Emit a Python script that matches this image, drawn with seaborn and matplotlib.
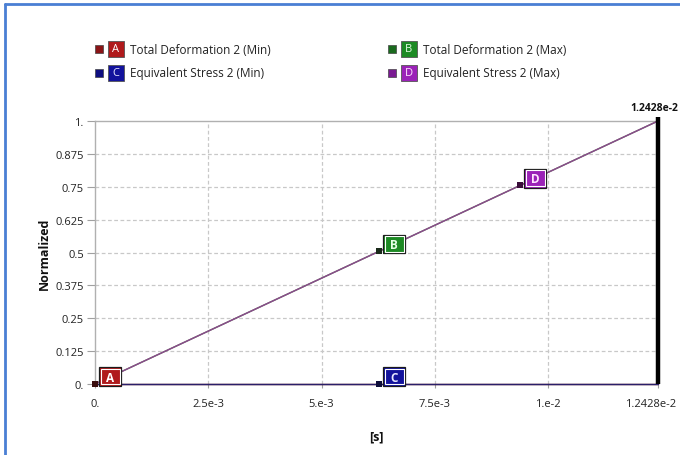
import matplotlib
matplotlib.use("Agg")
import matplotlib.pyplot as plt
import seaborn as sns
import pandas as pd
from matplotlib.patches import Rectangle
from matplotlib.lines import Line2D
from matplotlib.text import Text
from matplotlib.transforms import ScaledTranslation
from matplotlib.offsetbox import DrawingArea, AnnotationBbox

# ---- data -------------------------------------------------------------
time_s = [0.0, 0.012428]
total_def_min = [0.0, 0.0]
total_def_max = [0.0, 1.0]
eqv_stress_min = [0.0, 0.0]
eqv_stress_max = [0.0, 1.0]

series_names = ["Total Deformation 2 (Min)", "Total Deformation 2 (Max)",
                "Equivalent Stress 2 (Min)", "Equivalent Stress 2 (Max)"]
series_letters = ["A", "B", "C", "D"]
series_values = [total_def_min, total_def_max, eqv_stress_min, eqv_stress_max]

# probe markers (time, normalized value)
probe_times = [0.0, 6.27e-3, 6.27e-3, 9.38e-3]
probe_values = [0.0, 0.505, 0.0, 0.755]

x_ticks = [0.0, 2.5e-3, 5e-3, 7.5e-3, 1e-2, 1.2428e-2]
x_tick_labels = ["0.", "2.5e-3", "5.e-3", "7.5e-3", "1.e-2", "1.2428e-2"]
y_ticks = [0.0, 0.125, 0.25, 0.375, 0.5, 0.625, 0.75, 0.875, 1.0]
y_tick_labels = ["0.", "0.125", "0.25", "0.375", "0.5", "0.625", "0.75", "0.875", "1."]
end_time = 0.012428
end_time_label = "1.2428e-2"

# ---- styling ----------------------------------------------------------
box_colors = ["#b01a1c", "#1d8a24", "#12129c", "#9b22b8"]
legend_dot_colors = ["#8a1416", "#1a6a1e", "#0e0e80", "#7a1a92"]
line_colors = ["#6a1f1f", "#5a7a4a", "#2a1f6a", "#8a4a8e"]
dot_colors = ["#3a0d0d", "#1a2a1a", "#0d0d3a", "#3a0d3a"]
letter_colors = ["#ffffff", "#e6ffe6", "#e6e6ff", "#ffe6ff"]

sns.set_theme(style="white")
plt.rcParams["font.family"] = ["Open Sans", "DejaVu Sans"]

W, H = 680, 456
fig = plt.figure(figsize=(W / 100, H / 100), dpi=100)
fig.patch.set_facecolor("white")

ax_left, ax_right, ax_top, ax_bottom = 95, 658, 122, 385
ax = fig.add_axes([ax_left / W, 1 - ax_bottom / H,
                   (ax_right - ax_left) / W, (ax_bottom - ax_top) / H])

rows = []
for name, vals in zip(series_names, series_values):
    for t, v in zip(time_s, vals):
        rows.append({"time": t, "value": v, "series": name})
df = pd.DataFrame(rows)

sns.lineplot(data=df, x="time", y="value", hue="series",
             hue_order=series_names, palette=dict(zip(series_names, line_colors)),
             linewidth=1.0, legend=False, ax=ax, clip_on=False, zorder=3)

ax.set_xlim(0, end_time)
ax.set_ylim(0, 1)

# grid
for xt in x_ticks[1:-1]:
    ax.axvline(xt, color="#c8c8c8", lw=0.9, ls=(0, (3, 2)), zorder=1)
for yt in y_ticks[1:-1]:
    ax.axhline(yt, color="#c8c8c8", lw=0.9, ls=(0, (3, 2)), zorder=1)

for s in ["right", "bottom"]:
    ax.spines[s].set_visible(False)
for s in ["left", "top"]:
    ax.spines[s].set_color("#b0b0b0")
    ax.spines[s].set_linewidth(1.0)

# current-time marker
ax.plot([end_time, end_time], [0, 1.015], color="black", lw=3.2,
        clip_on=False, zorder=5, solid_capstyle="butt")
ax.annotate(end_time_label, (end_time, 1.0), xytext=(-3, 6),
            textcoords="offset points", ha="center", va="bottom",
            fontsize=7.5, fontweight="bold", color="#111111",
            annotation_clip=False)

ax.set_xticks(x_ticks)
ax.set_xticklabels(x_tick_labels)
ax.set_yticks(y_ticks)
ax.set_yticklabels(y_tick_labels)
ax.tick_params(axis="x", length=3, width=0.8, color="#a0a0a0",
               labelsize=8, labelcolor="#222222", pad=7, bottom=True)
ax.tick_params(axis="y", length=6, width=0.8, color="#a0a0a0",
               labelsize=8, labelcolor="#222222", pad=2, left=True)
ax.set_xlabel("[s]", fontsize=9, fontweight="bold", labelpad=15, color="#111111")
ax.set_ylabel("Normalized", fontsize=9, fontweight="bold", labelpad=3, color="#111111")

# nudge the end-time tick label so it stays inside the window
fig.canvas.draw()
last = ax.get_xticklabels()[-1]
last.set_transform(last.get_transform() +
                   ScaledTranslation(-5 / 72, 0, fig.dpi_scale_trans))


def tag(letter, fc, tc, w=16, h=13.5):
    da = DrawingArea(w, h, 0, 0)
    da.add_artist(Rectangle((0, 0), w, h, fc=fc, ec="#1a1a1a", lw=0.9))
    da.add_artist(Rectangle((1.2, 1.2), w - 2.4, h - 2.4, fc=fc, ec="white", lw=0.8))
    da.add_artist(Text(w / 2, h / 2 - 0.3, letter, ha="center", va="center",
                       fontsize=8.5, fontweight="bold", color=tc,
                       fontfamily=["Open Sans", "DejaVu Sans"]))
    return da


# probe markers with lettered tags
for t, v, letter, bc, dc, lc in zip(probe_times, probe_values, series_letters,
                                    box_colors, dot_colors, letter_colors):
    ax.scatter([t], [v], marker="s", s=20, color=dc, zorder=6, clip_on=False,
               linewidths=0)
    ab = AnnotationBbox(tag(letter, bc, lc), (t, v), xybox=(3.0, -1.5),
                        boxcoords="offset points", box_alignment=(0, 0),
                        frameon=False, pad=0, annotation_clip=False, zorder=8)
    ax.add_artist(ab)

# legend
leg_cols = [95, 388]
leg_rows = [50, 74]
for i, (name, letter, bc, lc, dk) in enumerate(zip(series_names, series_letters,
                                                   box_colors, letter_colors,
                                                   legend_dot_colors)):
    x0 = leg_cols[i % 2]
    yc = leg_rows[i // 2]
    fig.patches.append(Rectangle((x0 / W, 1 - (yc + 4) / H), 8 / W, 8 / H,
                                 transform=fig.transFigure, fc=dk,
                                 ec="#444444", lw=0.5))
    fig.patches.append(Rectangle(((x0 + 13) / W, 1 - (yc + 8) / H), 16 / W, 16 / H,
                                 transform=fig.transFigure, fc=bc,
                                 ec="#555555", lw=0.6))
    fig.text((x0 + 21) / W, 1 - yc / H, letter, ha="center", va="center",
             fontsize=8, color=lc)
    fig.text((x0 + 35) / W, 1 - yc / H, name, ha="left", va="center",
             fontsize=8.5, color="#222222")

# window frame on the left and top
fig.lines.append(Line2D([5 / W, 5 / W], [0, 1 - 5 / H], transform=fig.transFigure,
                        color="#4a7fd4", lw=2.0))
fig.lines.append(Line2D([5 / W, 1], [1 - 5 / H, 1 - 5 / H], transform=fig.transFigure,
                        color="#4a7fd4", lw=2.0))

fig.savefig("out.png", dpi=100)
